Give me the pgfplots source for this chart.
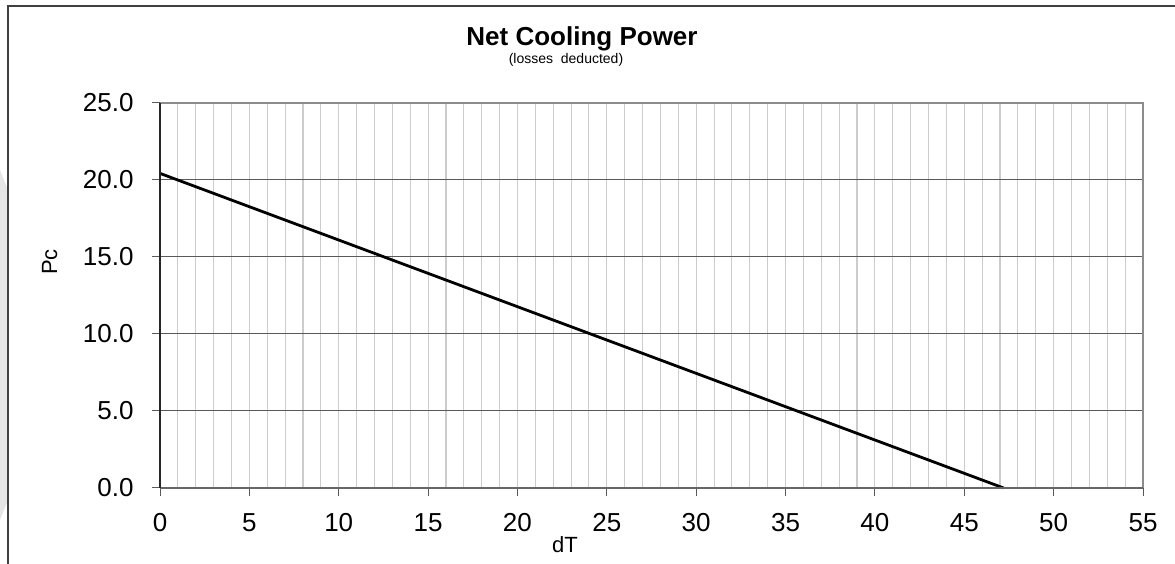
\documentclass[border=0pt]{standalone}
\usepackage{fontspec}
\setmainfont{Liberation Sans}
\usepackage{pgfplots}
\pgfplotsset{compat=1.18}
\begin{document}
\begin{tikzpicture}[x=1pt,y=1pt]
\useasboundingbox (0,0) rectangle (1175,564);
\fill[black!10] (0,394) -- (8,374) -- (8,64) -- (0,44) -- cycle;
\draw[color=black!75, line width=1.2pt] (8,0) -- (8,558) -- (1175,558);
\begin{axis}[
  at={(160pt,76pt)}, anchor=south west,
  scale only axis, width=983pt, height=385pt,
  xmin=0, xmax=55, ymin=0, ymax=25,
  xtick={0,5,...,55}, ytick={0,5,...,25},
  minor x tick num=4,
  /pgf/number format/assume math mode=true,
  ticklabel style={font=\fontsize{26}{26}\selectfont},
  yticklabel style={/pgf/number format/.cd, fixed, fixed zerofill, precision=1, /tikz/.cd, xshift=-15pt},
  xticklabel style={yshift=-14pt},
  xmajorgrids, xminorgrids, ymajorgrids,
  x grid style={color=black!20, line width=1.1pt},
  y grid style={color=black!65, line width=1pt},
  axis line style={draw=none},
  tick align=outside,
  major tick length=8pt, minor tick length=0pt,
  xtick pos=bottom, ytick pos=left,
  tick style={color=black!65, line width=1pt},
  clip=false,
]
\addplot[black, line width=2.8pt] coordinates {(0,20.43) (47.2,0)};
\draw[color=black!45, line width=1.5pt] (rel axis cs:0,1) -- (rel axis cs:1,1) -- (rel axis cs:1,0);
\draw[color=black!60, line width=2pt] (rel axis cs:0,0) -- (rel axis cs:1,0);
\draw[color=black!85, line width=1.2pt] (rel axis cs:0,0) -- (rel axis cs:0,1);
\end{axis}
\node[anchor=base, font=\bfseries\fontsize{26}{26}\selectfont, inner sep=0pt] at (582,518) {Net Cooling Power};
\node[anchor=base, font=\fontsize{14}{14}\selectfont, inner sep=0pt] at (566,500) {(losses\ \ deducted)};
\node[anchor=base, font=\fontsize{22}{22}\selectfont, inner sep=0pt] at (565,11) {dT};
\node[anchor=base, rotate=90, font=\fontsize{22}{22}\selectfont, inner sep=0pt] at (57,302) {Pc};
\end{tikzpicture}
\end{document}
